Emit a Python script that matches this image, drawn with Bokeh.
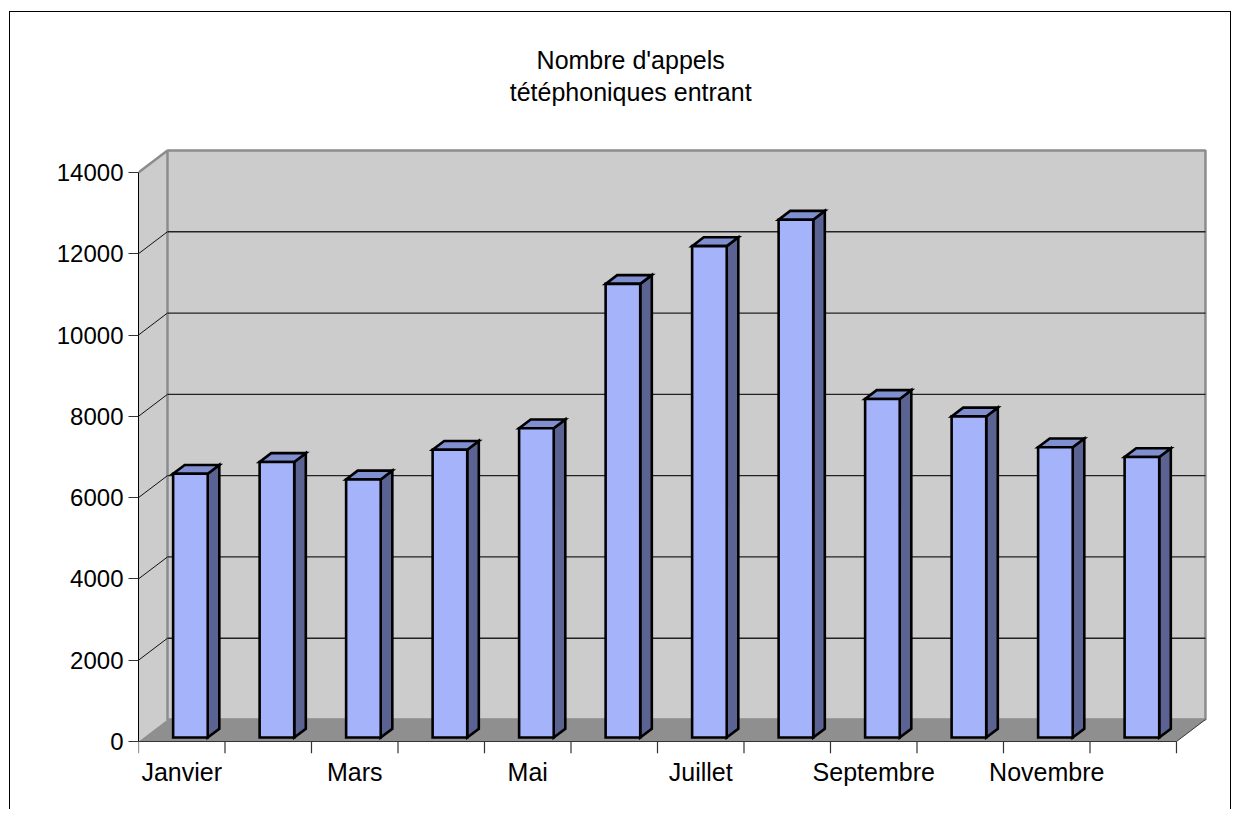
from bokeh.plotting import figure
from bokeh.models import Range1d, LinearAxis, FixedTicker
from bokeh.core.properties import value
from bokeh.embed import file_html
from bokeh.resources import INLINE

# ---------------- data ----------------
months = ["Janvier", "Février", "Mars", "Avril", "Mai", "Juin",
          "Juillet", "Août", "Septembre", "Octobre", "Novembre", "Décembre"]
calls = [6490, 6780, 6350, 7080, 7610, 11160, 12090, 12740, 8330, 7900, 7140, 6900]
y_ticks = [0, 2000, 4000, 6000, 8000, 10000, 12000, 14000]
title_lines = ["Nombre d'appels", "tétéphoniques entrant"]

# ---------------- 3D styling / layout ----------------
DX, DY = 0.335, 540          # depth of the box (category units, value units)
F0, F1 = 0.18, 0.58          # bar depth start / end (fraction of box depth)
BAR_L, BAR_W = 0.34, 0.40    # bar offset / width inside a category
TICK = 295                   # length of category tick marks (value units)
TITLE_X = 5.69               # title centre (x units)
TITLE_Y = [16765, 15978]     # title line centres (y units, above the box)
FONT = "Liberation Sans"

n = len(months)
ymax = y_ticks[-1]

p = figure(width=1222, height=798, output_backend="svg", toolbar_location=None,
           x_range=Range1d(0, 12.451), y_range=Range1d(-TICK, 17737),
           x_axis_location=None, y_axis_location=None,
           min_border_left=128, min_border_right=17, min_border_top=8,
           min_border_bottom=57, outline_line_color=None,
           background_fill_color="white", border_fill_color="white",
           margin=(11, 0, 0, 9),
           styles={"border-top": "1px solid #000", "border-left": "1px solid #000",
                   "border-right": "1px solid #000"})
p.grid.visible = False

# side wall
p.patch([0, 0, DX, DX], [0, ymax, ymax + DY, DY], fill_color="#cccccc", line_color=None)
# back wall
p.quad(left=DX, right=n + DX, bottom=DY, top=ymax + DY, fill_color="#cccccc",
       line_color="#8c8c8c", line_width=2.5)
# floor
p.patch([0, n, n + DX, DX], [0, 0, DY, DY], fill_color="#8f8f8f", line_color=None)
p.segment(x0=[n], y0=[0], x1=[n + DX], y1=[DY], line_color="#333333", line_width=1)
# side wall top edge
p.segment(x0=[0], y0=[ymax], x1=[DX], y1=[ymax + DY], line_color="#8c8c8c", line_width=2.5)

# gridlines
gv = [v for v in y_ticks if 0 < v < ymax]
p.segment(x0=[0] * len(gv), y0=gv, x1=[DX] * len(gv), y1=[v + DY for v in gv],
          line_color="#111111", line_width=1)
p.segment(x0=[DX] * len(gv), y0=[v + DY for v in gv], x1=[n + DX] * len(gv),
          y1=[v + DY for v in gv], line_color="#222222", line_width=1.3)

# category axis line and tick marks (front floor edge)
p.segment(x0=[0], y0=[0], x1=[n], y1=[0], line_color="#333333", line_width=1.2)
bounds = list(range(n + 1))
p.segment(x0=bounds, y0=[0] * len(bounds), x1=bounds, y1=[-TICK] * len(bounds),
          line_color="#333333", line_width=1.2)

# bars
ddx, ddy = (F1 - F0) * DX, (F1 - F0) * DY
fx_s, fy_s, sx_s, sy_s, tx_s, ty_s = [], [], [], [], [], []
for i, v in enumerate(calls):
    L = i + BAR_L + F0 * DX
    R = L + BAR_W
    b = F0 * DY
    t = v + F0 * DY
    fx_s.append([L, R, R, L]); fy_s.append([b, b, t, t])
    sx_s.append([R, R + ddx, R + ddx, R]); sy_s.append([b, b + ddy, t + ddy, t])
    tx_s.append([L, R, R + ddx, L + ddx]); ty_s.append([t, t, t + ddy, t + ddy])

common = dict(line_color="black", line_width=2.6, line_join="miter")
p.patches(sx_s, sy_s, fill_color="#5a6392", **common)
p.patches(tx_s, ty_s, fill_color="#7f8fcf", **common)
p.patches(fx_s, fy_s, fill_color="#a5b4fa", **common)

# title (two centred lines)
p.text(x=[TITLE_X] * len(title_lines), y=TITLE_Y, text=title_lines,
       text_align="center", text_baseline="middle", text_font=value(FONT),
       text_font_size="25px", text_color="black")

# axes
yaxis = LinearAxis(ticker=FixedTicker(ticks=y_ticks), bounds=(0, ymax),
                   major_tick_out=10, major_tick_in=0, minor_tick_out=0, minor_tick_in=0,
                   major_label_standoff=5, major_label_text_font=FONT,
                   major_label_text_font_size="24px", major_label_text_color="black",
                   axis_line_color="black", major_tick_line_color="#333333")
p.add_layout(yaxis, "left")

label_pos = [i + 0.5 for i in range(0, n, 2)]
xlabels_axis = LinearAxis(ticker=FixedTicker(ticks=label_pos),
                          major_label_overrides={pos: months[int(pos)] for pos in label_pos},
                          major_tick_out=0, major_tick_in=0, minor_tick_out=0, minor_tick_in=0,
                          axis_line_color=None, major_label_standoff=4,
                          major_label_text_font=FONT, major_label_text_font_size="25px",
                          major_label_text_color="black")
p.add_layout(xlabels_axis, "below")

open("out.html", "w").write(file_html(p, INLINE))
